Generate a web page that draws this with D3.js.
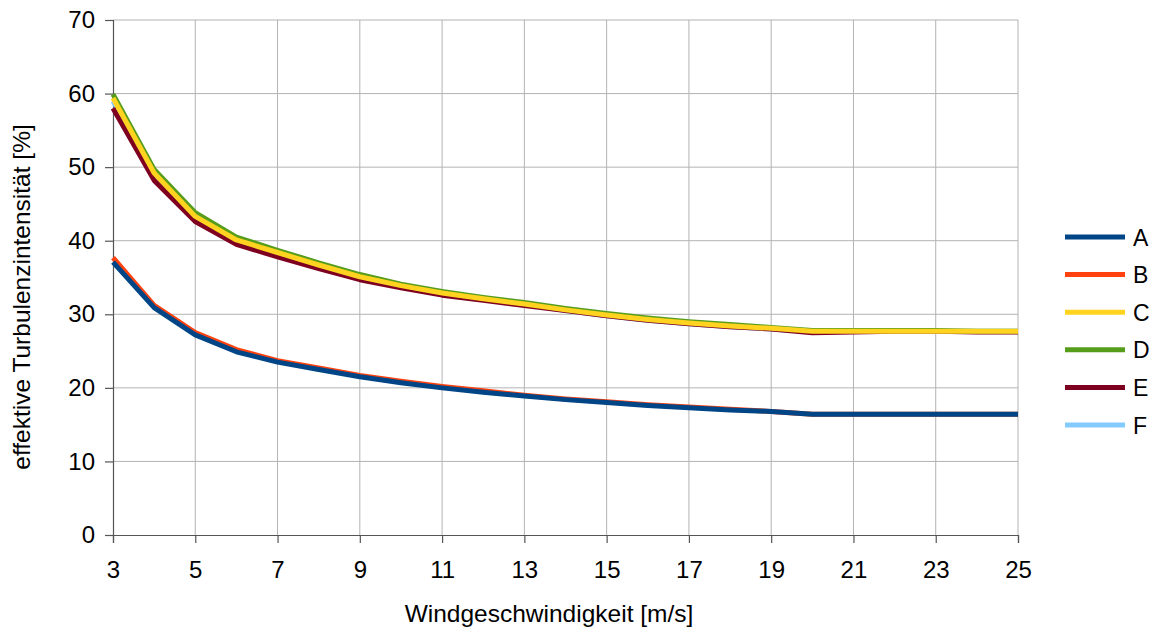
<!DOCTYPE html>
<html>
<head>
<meta charset="utf-8">
<script src="https://cdn.jsdelivr.net/npm/d3@7"></script>
<style>
  body { margin: 0; background: #fff; }
  text { font-family: "Liberation Sans", Arial, sans-serif; fill: #000; }
</style>
</head>
<body>
<div id="chart"></div>
<script>
// Windgeschwindigkeit [m/s]
const speeds = [3,4,5,6,7,8,9,10,11,12,13,14,15,16,17,18,19,20,21,22,23,24,25];
const seriesA = [37.1,30.9,27.2,24.9,23.5,22.5,21.5,20.7,20.0,19.4,18.9,18.4,18.0,17.6,17.3,17.0,16.8,16.4,16.4,16.4,16.4,16.4,16.4];
const seriesB = [37.7,31.2,27.5,25.2,23.7,22.7,21.7,20.9,20.2,19.6,19.0,18.5,18.1,17.7,17.4,17.1,16.8,16.4,16.4,16.4,16.4,16.4,16.4];
const seriesC = [59.4,49.2,43.3,40.1,38.4,36.7,35.1,33.9,32.9,32.1,31.4,30.6,29.9,29.3,28.8,28.4,28.1,27.7,27.7,27.7,27.7,27.7,27.7];
const seriesD = [59.9,49.7,43.8,40.5,38.7,37.0,35.4,34.1,33.1,32.3,31.6,30.8,30.1,29.5,29.0,28.6,28.2,27.8,27.8,27.8,27.8,27.7,27.7];
const seriesE = [58.0,48.2,42.6,39.5,37.8,36.2,34.7,33.6,32.6,31.9,31.2,30.5,29.8,29.2,28.7,28.3,28.0,27.5,27.6,27.7,27.7,27.6,27.6];
const seriesF = [59.0,49.1,43.2,40.0,38.3,36.6,35.0,33.8,32.8,32.0,31.3,30.5,29.8,29.2,28.7,28.3,28.0,27.6,27.7,27.7,27.7,27.7,27.7];
const seriesNames = ["A","B","C","D","E","F"];
const seriesColors = ["#004586","#ff420e","#ffd320","#579d1c","#7e0021","#83caff"];
const xTicks = [3,5,7,9,11,13,15,17,19,21,23,25];
const yTicks = [0,10,20,30,40,50,60,70];

const allSeries = [seriesA, seriesB, seriesC, seriesD, seriesE, seriesF];

const width = 1156, height = 629;
const margin = { top: 20, right: 138, bottom: 94, left: 113 };
const plotW = width - margin.left - margin.right;
const plotH = height - margin.top - margin.bottom;

const svg = d3.select("#chart").append("svg")
  .attr("width", width)
  .attr("height", height);

const g = svg.append("g")
  .attr("transform", `translate(${margin.left},${margin.top})`);

const x = d3.scaleLinear().domain([3, 25]).range([0, plotW]);
const y = d3.scaleLinear().domain([0, 70]).range([plotH, 0]);

// Gitternetz
g.selectAll(".hgrid")
  .data(yTicks.filter(d => d > 0))
  .enter().append("line")
  .attr("x1", 0).attr("x2", plotW)
  .attr("y1", d => y(d)).attr("y2", d => y(d))
  .attr("stroke", "#b3b3b3").attr("stroke-width", 1);

g.selectAll(".vgrid")
  .data(xTicks.filter(d => d > 3))
  .enter().append("line")
  .attr("x1", d => x(d)).attr("x2", d => x(d))
  .attr("y1", 0).attr("y2", plotH)
  .attr("stroke", "#b3b3b3").attr("stroke-width", 1);

// Achsen
const yAxis = g.append("g")
  .call(d3.axisLeft(y).tickValues(yTicks).tickSize(8).tickPadding(10));
const xAxis = g.append("g")
  .attr("transform", `translate(0,${plotH})`)
  .call(d3.axisBottom(x).tickValues(xTicks).tickSize(8).tickPadding(18));

[xAxis, yAxis].forEach(a => {
  a.select(".domain").attr("stroke", "#555").attr("stroke-width", 1.2);
  a.selectAll(".tick line").attr("stroke", "#555").attr("stroke-width", 1.2);
  a.selectAll(".tick text")
    .style("font-family", "Liberation Sans, Arial, sans-serif")
    .style("font-size", "24px")
    .attr("fill", "#000");
});

// Linien (umgekehrte Reihenfolge, A liegt oben)
const line = d3.line()
  .x((d, i) => x(speeds[i]))
  .y(d => y(d));

allSeries.map((s, i) => ({ s, i })).reverse().forEach(({ s, i }) => {
  g.append("path")
    .datum(s)
    .attr("fill", "none")
    .attr("stroke", seriesColors[i])
    .attr("stroke-width", 5)
    .attr("stroke-linejoin", "round")
    .attr("d", line);
});

// Legende
const legend = svg.append("g")
  .attr("transform", "translate(1065,237)");
const items = legend.selectAll(".legend-item")
  .data(seriesNames)
  .enter().append("g")
  .attr("transform", (d, i) => `translate(0,${i * 37.6})`);
items.append("line")
  .attr("x1", 0).attr("x2", 60)
  .attr("y1", 0).attr("y2", 0)
  .attr("stroke", (d, i) => seriesColors[i])
  .attr("stroke-width", 5);
items.append("text")
  .attr("x", 68).attr("y", 8.5)
  .style("font-size", "23px")
  .text(d => d);

// Achsentitel
svg.append("text")
  .attr("transform", "translate(30,297) rotate(-90)")
  .attr("text-anchor", "middle")
  .style("font-size", "24.5px")
  .text("effektive Turbulenzintensität [%]");

svg.append("text")
  .attr("x", 549).attr("y", 622)
  .attr("text-anchor", "middle")
  .style("font-size", "24.5px")
  .text("Windgeschwindigkeit [m/s]");
</script>
</body>
</html>
